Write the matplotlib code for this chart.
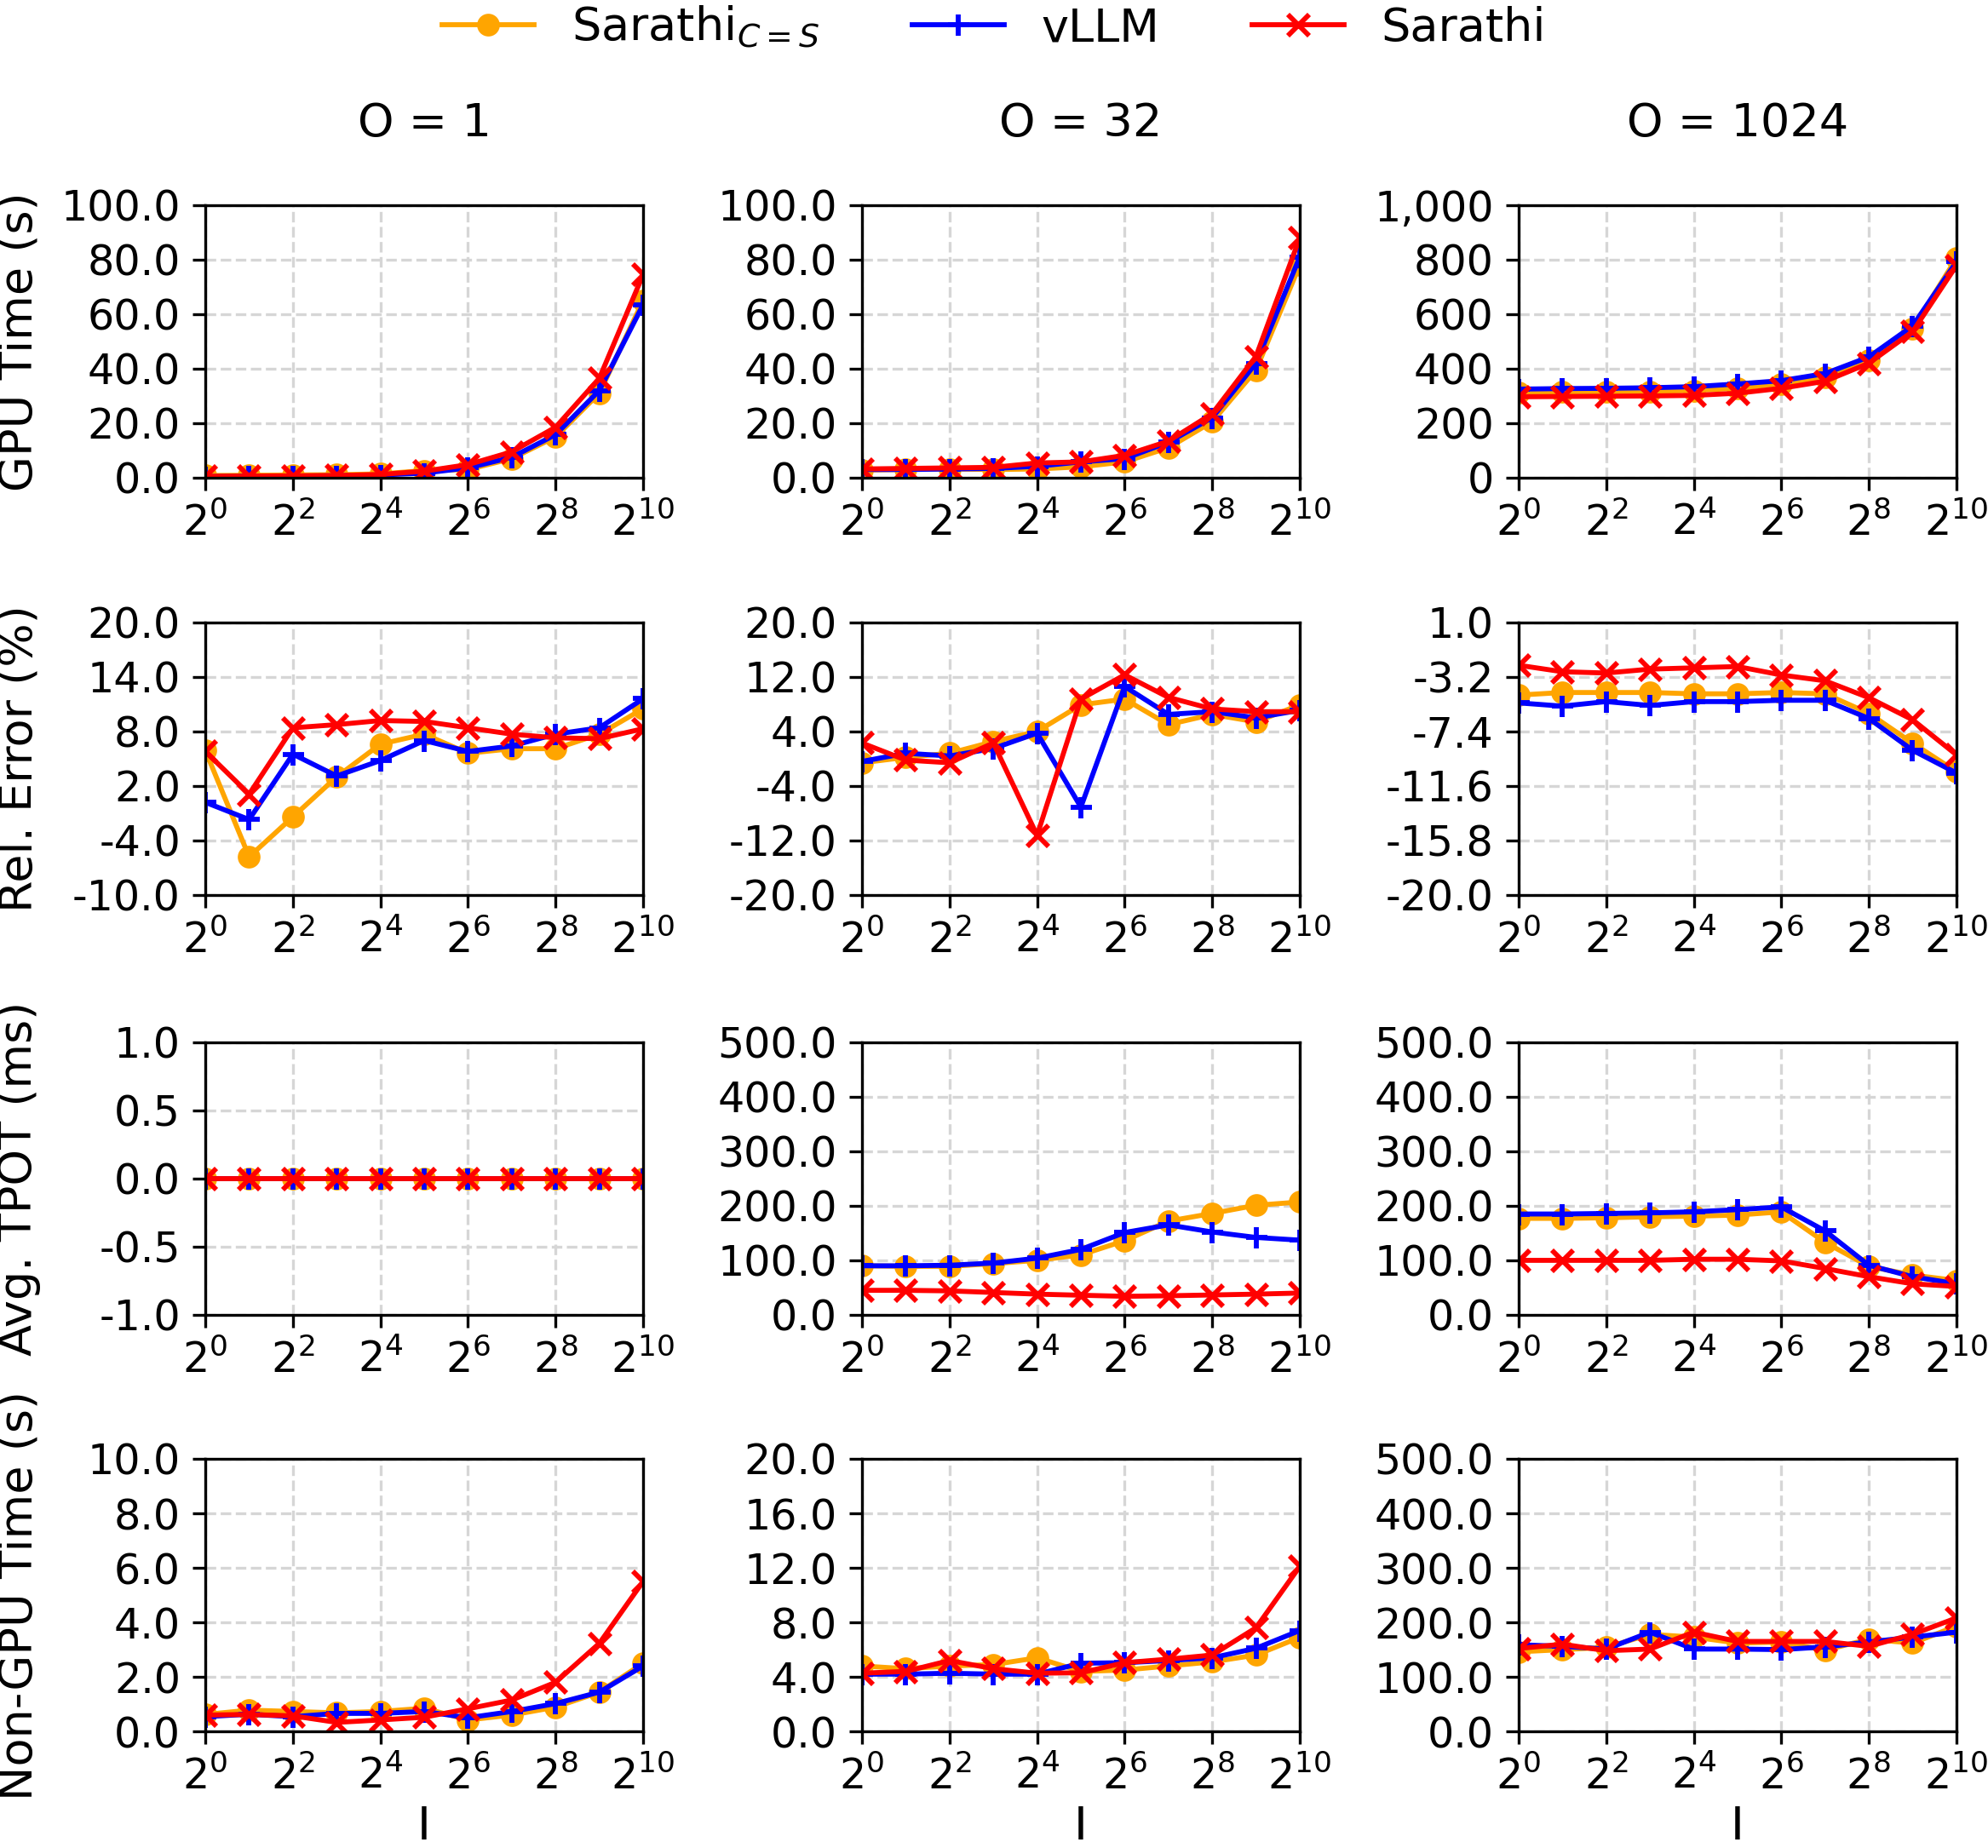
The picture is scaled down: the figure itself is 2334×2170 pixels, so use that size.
import matplotlib
matplotlib.use('Agg')
import matplotlib.pyplot as plt
from matplotlib.ticker import FormatStrFormatter, StrMethodFormatter, NullLocator
import numpy as np

# input lengths (x axis) and output lengths (columns)
input_lens = [1, 2, 4, 8, 16, 32, 64, 128, 256, 512, 1024]
output_lens = ['1', '32', '1024']
series_names = [r'Sarathi$_{C=S}$', 'vLLM', 'Sarathi']
row_labels = ['GPU Time (s)', 'Rel. Error (%)', 'Avg. TPOT (ms)', 'Non-GPU Time (s)']

# GPU time (s)
gpu_o1_sc = [0.8, 0.9, 1.0, 1.1, 1.4, 2.6, 3.0, 7.0, 15.0, 31.0, 65.0]
gpu_o1_vllm = [0.4, 0.5, 0.6, 0.7, 1.0, 1.7, 3.6, 7.5, 15.8, 32.0, 63.5]
gpu_o1_sar = [0.5, 0.6, 0.7, 0.8, 1.2, 2.4, 4.8, 9.5, 18.5, 36.5, 74.5]
gpu_o32_sc = [2.8, 3.0, 3.2, 3.0, 3.2, 4.0, 5.8, 11.0, 20.5, 39.5, 78.0]
gpu_o32_vllm = [3.0, 3.0, 3.2, 3.4, 4.2, 5.8, 7.0, 13.0, 22.0, 42.0, 81.0]
gpu_o32_sar = [3.2, 3.4, 3.6, 3.8, 5.4, 5.8, 8.2, 13.4, 23.5, 44.5, 88.0]
gpu_o1024_sc = [312, 314, 315, 316, 320, 328, 344, 370, 432, 547, 805]
gpu_o1024_vllm = [325, 327, 328, 330, 334, 344, 356, 382, 443, 557, 792]
gpu_o1024_sar = [297, 298, 299, 300, 302, 310, 328, 354, 420, 536, 778]

# relative error (%)
err_o1_sc = [5.9, -5.8, -1.4, 3.0, 6.6, 7.7, 5.6, 6.1, 6.1, 7.7, 10.5]
err_o1_vllm = [0.2, -1.7, 5.5, 3.1, 4.8, 7.0, 5.8, 6.4, 7.7, 8.4, 11.6]
err_o1_sar = [5.8, 1.1, 8.4, 8.75, 9.2, 9.1, 8.4, 7.7, 7.3, 7.2, 8.3]
err_o32_sc = [-0.6, 0.2, 0.8, 2.5, 4.0, 7.9, 8.75, 5.0, 6.5, 5.4, 7.9]
err_o32_vllm = [-0.4, 0.8, 0.4, 1.5, 3.75, -7.1, 10.6, 6.5, 6.9, 6.0, 7.1]
err_o32_sar = [2.3, -0.2, -0.6, 2.3, -11.25, 8.75, 12.3, 9.0, 7.3, 6.9, 6.9]
err_o1024_sc = [-4.6, -4.4, -4.4, -4.4, -4.5, -4.5, -4.4, -4.5, -6.0, -8.3, -10.5]
err_o1024_vllm = [-5.2, -5.45, -5.1, -5.4, -5.1, -5.1, -5.0, -5.0, -6.4, -8.85, -10.6]
err_o1024_sar = [-2.3, -2.8, -2.9, -2.6, -2.5, -2.4, -3.05, -3.5, -4.8, -6.5, -9.2]

# average TPOT (ms)
tpot_o1_sc = [0, 0, 0, 0, 0, 0, 0, 0, 0, 0, 0]
tpot_o1_vllm = [0, 0, 0, 0, 0, 0, 0, 0, 0, 0, 0]
tpot_o1_sar = [0, 0, 0, 0, 0, 0, 0, 0, 0, 0, 0]
tpot_o32_sc = [90, 89, 89, 94, 100, 110, 136, 172, 186, 201, 207]
tpot_o32_vllm = [90, 90, 91, 95, 104, 120, 151, 165, 152, 142, 137]
tpot_o32_sar = [45, 45, 44, 41, 38, 36, 34, 35, 36.5, 38, 40]
tpot_o1024_sc = [177, 177, 178, 180, 181, 183, 189, 133, 89, 73, 63]
tpot_o1024_vllm = [185, 185, 186, 187, 189, 193, 198, 154, 91, 70, 57]
tpot_o1024_sar = [100, 100, 100, 100, 102, 102, 99, 85, 70, 57, 52]

# non-GPU time (s)
cpu_o1_sc = [0.62, 0.78, 0.73, 0.68, 0.73, 0.85, 0.42, 0.6, 0.89, 1.44, 2.5]
cpu_o1_vllm = [0.54, 0.63, 0.54, 0.66, 0.66, 0.73, 0.5, 0.73, 1.02, 1.44, 2.4]
cpu_o1_sar = [0.6, 0.62, 0.57, 0.33, 0.42, 0.52, 0.83, 1.15, 1.8, 3.23, 5.5]
cpu_o32_sc = [4.8, 4.6, 4.8, 4.9, 5.4, 4.4, 4.5, 4.8, 5.1, 5.6, 6.9]
cpu_o32_vllm = [4.2, 4.2, 4.27, 4.2, 4.2, 5.0, 5.04, 5.2, 5.4, 6.1, 7.4]
cpu_o32_sar = [4.27, 4.4, 5.2, 4.6, 4.27, 4.3, 5.04, 5.3, 5.6, 7.6, 12.1]
cpu_o1024_sc = [146, 150, 154, 178, 173, 162, 164, 149, 169, 162, 193]
cpu_o1024_vllm = [159, 156, 151, 182, 151, 151, 150, 155, 164, 173, 182]
cpu_o1024_sar = [152, 160, 148, 151, 182, 165, 165, 165, 156, 178, 208]

panels = [
    [(gpu_o1_sc, gpu_o1_vllm, gpu_o1_sar), (gpu_o32_sc, gpu_o32_vllm, gpu_o32_sar),
     (gpu_o1024_sc, gpu_o1024_vllm, gpu_o1024_sar)],
    [(err_o1_sc, err_o1_vllm, err_o1_sar), (err_o32_sc, err_o32_vllm, err_o32_sar),
     (err_o1024_sc, err_o1024_vllm, err_o1024_sar)],
    [(tpot_o1_sc, tpot_o1_vllm, tpot_o1_sar), (tpot_o32_sc, tpot_o32_vllm, tpot_o32_sar),
     (tpot_o1024_sc, tpot_o1024_vllm, tpot_o1024_sar)],
    [(cpu_o1_sc, cpu_o1_vllm, cpu_o1_sar), (cpu_o32_sc, cpu_o32_vllm, cpu_o32_sar),
     (cpu_o1024_sc, cpu_o1024_vllm, cpu_o1024_sar)],
]

y_limits = [
    [(0, 100), (0, 100), (0, 1000)],
    [(-10, 20), (-20, 20), (-20, 1)],
    [(-1, 1), (0, 500), (0, 500)],
    [(0, 10), (0, 20), (0, 500)],
]

colors = ['orange', 'blue', 'red']
markers = ['o', '+', 'x']
msizes = [5, 6, 6]

fig = plt.figure(figsize=(2334 / 300, 2170 / 300), dpi=300)

lefts = [0.1033, 0.4336, 0.7639]
bottoms = [0.7415, 0.5157, 0.2885, 0.0631]
width = 0.2202
height = 0.1475

handles = None
for r in range(4):
    for c in range(3):
        ax = fig.add_axes([lefts[c], bottoms[r], width, height])
        lines = []
        for s in range(3):
            ln, = ax.plot(input_lens, panels[r][c][s], color=colors[s], marker=markers[s],
                          markersize=msizes[s], markeredgewidth=1.4, linewidth=1.4,
                          label=series_names[s])
            lines.append(ln)
        if handles is None:
            handles = lines

        ax.set_xscale('log', base=2)
        ax.set_xlim(1, 1024)
        ax.set_xticks([1, 4, 16, 64, 256, 1024])
        ax.set_xticklabels([r'$2^{0}$', r'$2^{2}$', r'$2^{4}$', r'$2^{6}$', r'$2^{8}$', r'$2^{10}$'])
        ax.xaxis.set_minor_locator(NullLocator())

        lo, hi = y_limits[r][c]
        ax.set_ylim(lo, hi)
        n = 5 if (r == 2 and c == 0) else 6
        ax.set_yticks(np.linspace(lo, hi, n))
        if r == 0 and c == 2:
            ax.yaxis.set_major_formatter(StrMethodFormatter('{x:,.0f}'))
        else:
            ax.yaxis.set_major_formatter(FormatStrFormatter('%.1f'))

        ax.tick_params(labelsize=11.8)
        ax.grid(True, color='#d6d6d6', linestyle='--', linewidth=0.8)
        ax.set_axisbelow(True)

        if r == 0:
            ax.set_title(f'O = {output_lens[c]}', fontsize=13, pad=19.5)
        if c == 0:
            ax.set_ylabel(row_labels[r], fontsize=13)
            ax.yaxis.set_label_coords(-0.375, 0.5)
        if r == 3:
            ax.set_xlabel('I', fontsize=13)
            ax.xaxis.set_label_coords(0.5, -0.27)

fig.legend(handles, series_names, loc='upper center', bbox_to_anchor=(0.5, 1.02),
           ncol=3, frameon=False, fontsize=13)

fig.savefig('out.png', dpi=300)
